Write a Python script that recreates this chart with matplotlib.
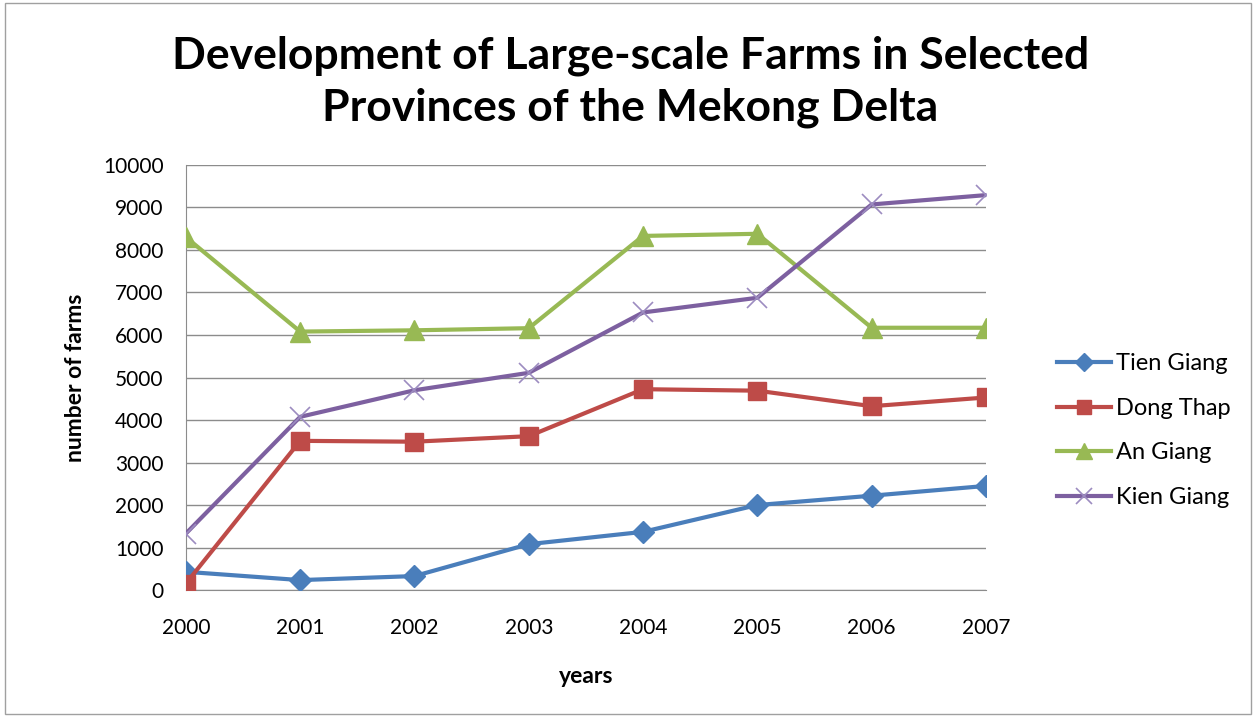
import matplotlib.pyplot as plt
from matplotlib.patches import Rectangle

years = [2000, 2001, 2002, 2003, 2004, 2005, 2006, 2007]
tien_giang = [430, 235, 330, 1080, 1370, 2000, 2220, 2450]
dong_thap = [155, 3510, 3490, 3620, 4725, 4690, 4325, 4530]
an_giang = [8300, 6080, 6110, 6160, 8330, 8380, 6170, 6170]
kien_giang = [1330, 4075, 4700, 5110, 6530, 6875, 9070, 9290]

series = [
    ("Tien Giang", tien_giang, "#4A7EBB", "D", 11),
    ("Dong Thap", dong_thap, "#BE4B48", "s", 13),
    ("An Giang", an_giang, "#98B954", "^", 14),
    ("Kien Giang", kien_giang, "#7D60A0", "x", 14),
]

plt.rcParams["font.family"] = ["Lato", "DejaVu Sans"]

fig = plt.figure(figsize=(12.56, 7.17), dpi=100)
ax = fig.add_axes([0.148, 0.177, 0.637, 0.593])

for name, vals, color, marker, ms in series:
    if marker == "x":
        ax.plot(years, vals, color=color, lw=3, marker=marker, ms=ms,
                mew=1.2, mec="#9C8CC0", label=name, zorder=3)
    else:
        ax.plot(years, vals, color=color, lw=3, marker=marker, ms=ms,
                label=name, zorder=3)

ax.set_xlim(2000, 2007)
ax.set_ylim(0, 10000)
ax.set_yticks(range(0, 10001, 1000))
ax.set_xticks(years)
ax.tick_params(axis="x", length=0, pad=20, labelsize=15)
ax.tick_params(axis="y", length=0, pad=16, labelsize=15)
ax.grid(axis="y", color="#8C8C8C", lw=1)
ax.set_axisbelow(True)
for side in ["top", "right"]:
    ax.spines[side].set_visible(False)
ax.spines["left"].set_color("#8C8C8C")
ax.spines["bottom"].set_color("#8C8C8C")

ax.set_ylabel("number of farms", fontsize=16.5, fontweight="bold", labelpad=12)
ax.set_xlabel("years", fontsize=16.5, fontweight="bold", labelpad=20)

fig.text(0.502, 0.886, "Development of Large-scale Farms in Selected\nProvinces of the Mekong Delta",
         ha="center", va="center", fontsize=32, fontweight="bold", linespacing=1.32)

ax.legend(loc="center left", bbox_to_anchor=(1.062, 0.375), frameon=False,
          fontsize=17, labelspacing=1.0, handlelength=2.3, handletextpad=0.2,
          markerscale=0.8)

fig.patches.append(Rectangle((0.004, 0.004), 0.992, 0.992, transform=fig.transFigure,
                             fill=False, edgecolor="#A0A0A0", lw=1))

fig.savefig("out.png", dpi=100)
